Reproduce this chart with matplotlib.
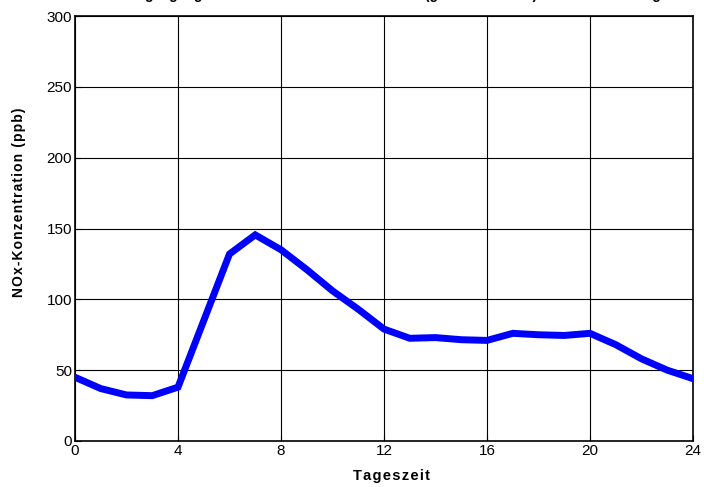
import numpy as np
import matplotlib.pyplot as plt

plt.rcParams['font.family'] = ['Liberation Sans', 'DejaVu Sans']

# Tagesgang NOx
stunde = [0, 1, 2, 3, 4, 5, 6, 7, 8, 9, 10, 11, 12, 13, 14, 15, 16, 17, 18, 19, 20, 21, 22, 23, 24]
nox = [45, 37, 32.5, 32, 38, 85, 132, 145.5, 135, 121, 106, 93, 79, 72.5, 73, 71.5, 71,
       76, 75, 74.5, 76, 68, 58, 50, 44]

xticks = [0, 4, 8, 12, 16, 20, 24]
yticks = [0, 50, 100, 150, 200, 250, 300]


def gesperrt(text, sp):
    return sp.join(text)


fig = plt.figure(figsize=(7.04, 4.87), dpi=100)
ax = fig.add_axes([75/704, 1-441/487, 618/704, 425/487])

ax.plot(stunde, nox, color='#0000ff', linewidth=5, solid_joinstyle='miter', zorder=3)

ax.set_xlim(0, 24)
ax.set_ylim(0, 300)
ax.set_xticks(xticks)
ax.set_yticks(yticks)
ax.grid(True, color='black', linewidth=0.8)
ax.tick_params(direction='in', labelsize=11, length=4, width=0.8, pad=2)
for s in ax.spines.values():
    s.set_linewidth(1.2)

fig.text(391/704, 1-476/487, gesperrt('Tageszeit', '\u200a'), ha='center', va='center',
         fontsize=10.5, fontweight='bold')
fig.text(19/704, 1-202/487, gesperrt('NOx-Konzentration (ppb)', '\u200a'), ha='center',
         va='center', rotation=90, fontsize=10, fontweight='bold')

# Titel wird oben abgeschnitten (wie im Original)
fig.text(395/704, 1+1/487, 'Tagesgang der mittleren NOx-Konzentration (gemessen 1995) an einem Messtag',
         ha='center', va='baseline', fontsize=10, fontweight='bold')

fig.savefig('out.png', dpi=100)
